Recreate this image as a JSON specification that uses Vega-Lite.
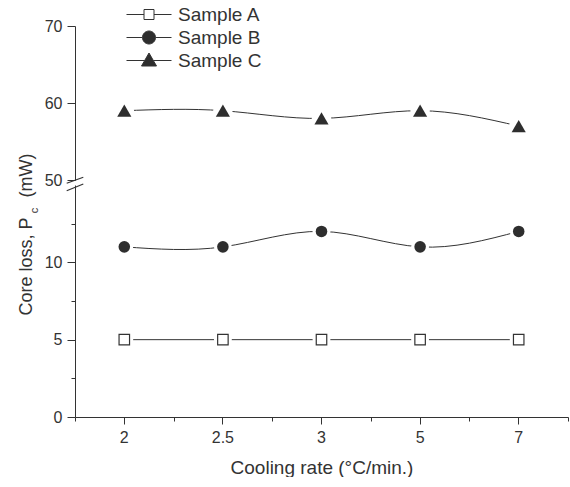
{
  "$schema": "https://vega.github.io/schema/vega-lite/v6.json",
  "padding": {"left": 16, "top": 5, "right": 0, "bottom": 0},
  "bounds": "flush",
  "spacing": 5,
  "config": {
    "view": {"stroke": null},
    "font": "Liberation Sans",
    "axis": {
      "labelFont": "Liberation Sans", "titleFont": "Liberation Sans",
      "labelFontSize": 16, "titleFontSize": 19, "titleFontWeight": "normal",
      "labelColor": "#333333", "titleColor": "#333333",
      "domainColor": "#333333", "tickColor": "#333333", "grid": false
    },
    "legend": {"labelFont": "Liberation Sans"}
  },
  "data": {"values": [
    {"rate": "2", "sample": "Sample A", "loss": 5},
    {"rate": "2.5", "sample": "Sample A", "loss": 5},
    {"rate": "3", "sample": "Sample A", "loss": 5},
    {"rate": "5", "sample": "Sample A", "loss": 5},
    {"rate": "7", "sample": "Sample A", "loss": 5},
    {"rate": "2", "sample": "Sample B", "loss": 11},
    {"rate": "2.5", "sample": "Sample B", "loss": 11},
    {"rate": "3", "sample": "Sample B", "loss": 12},
    {"rate": "5", "sample": "Sample B", "loss": 11},
    {"rate": "7", "sample": "Sample B", "loss": 12},
    {"rate": "2", "sample": "Sample C", "loss": 59},
    {"rate": "2.5", "sample": "Sample C", "loss": 59},
    {"rate": "3", "sample": "Sample C", "loss": 58},
    {"rate": "5", "sample": "Sample C", "loss": 59},
    {"rate": "7", "sample": "Sample C", "loss": 57}
  ]},
  "vconcat": [
    {
      "width": 493, "height": 154,
      "layer": [
        {
          "transform": [{"filter": "datum.sample == 'Sample C'"}],
          "mark": {"type": "line", "interpolate": "natural", "color": "#333333", "strokeWidth": 1},
          "encoding": {
            "x": {"field": "rate", "type": "nominal", "scale": {"type": "band", "domain": ["2", "2.5", "3", "5", "7"], "paddingInner": 0, "paddingOuter": 0}, "axis": null},
            "y": {"field": "loss", "type": "quantitative", "scale": {"domain": [50, 70], "nice": false, "zero": false},
              "axis": {"orient": "left", "title": null, "values": [50, 52.5, 55, 57.5, 60, 62.5, 65, 67.5, 70],
                "labelExpr": "datum.value % 5 === 0 ? datum.label : ''",
                "tickSize": {"condition": {"test": "datum.value % 5 === 0", "value": 8}, "value": 4},
                "labelPadding": 5}}
          }
        },
        {
          "transform": [{"filter": "datum.sample == 'Sample C'"}],
          "mark": {"type": "point", "shape": "circle", "filled": true, "color": "#ffffff", "size": 380, "opacity": 1},
          "encoding": {
            "x": {"field": "rate", "type": "nominal"},
            "y": {"field": "loss", "type": "quantitative"}
          }
        },
        {
          "transform": [{"filter": "datum.sample == 'Sample C'"}],
          "mark": {"type": "point", "shape": "triangle-up", "filled": true, "color": "#2e2e2e", "size": 200, "opacity": 1},
          "encoding": {
            "x": {"field": "rate", "type": "nominal"},
            "y": {"field": "loss", "type": "quantitative"}
          }
        },
        {
          "data": {"values": [{"label": "break"}]},
          "mark": {"type": "point", "shape": "M-0.83,0.33L0.83,-0.27M-0.83,1.07L0.83,0.4", "size": 400, "filled": false, "stroke": "#333333", "strokeWidth": 1.2, "opacity": 1},
          "encoding": {
            "x": {"datum": "2", "type": "nominal", "bandPosition": 0},
            "y": {"datum": 50, "type": "quantitative"}
          }
        },
        {
          "transform": [{"filter": "false"}],
          "mark": {"type": "point", "filled": true, "strokeWidth": 1, "opacity": 1},
          "encoding": {
            "shape": {"field": "sample", "type": "nominal",
              "scale": {"domain": ["Sample A", "Sample B", "Sample C"],
                "range": [
                  "M-8,0L-4.5,0M-2.5,0L1,0M-4.5,-1L-2.5,-1L-2.5,1L-4.5,1Z",
                  "M-8,0L-4.8,0M-2.2,0L1,0M-4.8,0A1.3,1.3 0 1,0 -2.2,0A1.3,1.3 0 1,0 -4.8,0Z",
                  "M-8,0L-4.37,0M-2.63,0L1,0M-3.5,-1.5L-2,1.1L-5,1.1Z"
                ]},
              "legend": {"orient": "none", "legendX": 82, "legendY": -21, "title": null, "symbolSize": 100,
                "symbolStrokeWidth": 1, "labelFontSize": 19, "labelColor": "#333333",
                "labelOffset": 2, "rowPadding": 3}},
            "fill": {"field": "sample", "type": "nominal",
              "scale": {"domain": ["Sample A", "Sample B", "Sample C"], "range": ["#ffffff", "#2e2e2e", "#2e2e2e"]},
              "legend": {"orient": "none", "legendX": 82, "legendY": -21, "title": null, "symbolSize": 100,
                "symbolStrokeWidth": 1, "labelFontSize": 19, "labelColor": "#333333",
                "labelOffset": 2, "rowPadding": 3}},
            "stroke": {"field": "sample", "type": "nominal",
              "scale": {"domain": ["Sample A", "Sample B", "Sample C"], "range": ["#333333", "#333333", "#333333"]},
              "legend": {"orient": "none", "legendX": 82, "legendY": -21, "title": null, "symbolSize": 100,
                "symbolStrokeWidth": 1, "labelFontSize": 19, "labelColor": "#333333",
                "labelOffset": 2, "rowPadding": 3}}
          }
        }
      ]
    },
    {
      "width": 493, "height": 232,
      "resolve": {"axis": {"x": "independent", "y": "independent"}},
      "layer": [
        {
          "transform": [{"filter": "datum.sample != 'Sample C'"}],
          "mark": {"type": "line", "interpolate": "natural", "color": "#333333", "strokeWidth": 1},
          "encoding": {
            "detail": {"field": "sample"},
            "x": {"field": "rate", "type": "nominal", "scale": {"type": "band", "domain": ["2", "2.5", "3", "5", "7"], "paddingInner": 0, "paddingOuter": 0},
              "axis": {"orient": "bottom", "title": "Cooling rate (°C/min.)", "labelAngle": 0, "tickSize": 7, "labelPadding": 5, "titlePadding": 13}},
            "y": {"field": "loss", "type": "quantitative", "scale": {"domain": [0, 15], "nice": false, "zero": false},
              "axis": {"orient": "left", "title": "Core loss, P\u00a0\u00a0\u00a0\u00a0(mW)", "titleFontSize": 18, "values": [0, 2.5, 5, 7.5, 10, 12.5],
                "labelExpr": "datum.value % 5 === 0 ? datum.label : ''",
                "tickSize": {"condition": {"test": "datum.value % 5 === 0", "value": 8}, "value": 4},
                "labelPadding": 5, "titleX": -44, "titleY": 49, "titleAlign": "center", "titleBaseline": "alphabetic", "titleAngle": -90}}
          }
        },
        {
          "transform": [{"filter": "datum.sample != 'Sample C'"}],
          "mark": {"type": "point", "shape": "circle", "filled": true, "color": "#ffffff", "size": 320, "opacity": 1},
          "encoding": {
            "x": {"field": "rate", "type": "nominal", "axis": null},
            "y": {"field": "loss", "type": "quantitative", "axis": null}
          }
        },
        {
          "transform": [{"filter": "datum.sample == 'Sample A'"}],
          "mark": {"type": "point", "shape": "square", "filled": false, "fill": "#ffffff", "stroke": "#333333", "strokeWidth": 1.2, "size": 110, "opacity": 1},
          "encoding": {
            "x": {"field": "rate", "type": "nominal", "axis": null},
            "y": {"field": "loss", "type": "quantitative", "axis": null}
          }
        },
        {
          "transform": [{"filter": "datum.sample == 'Sample B'"}],
          "mark": {"type": "point", "shape": "circle", "filled": true, "color": "#2e2e2e", "size": 133, "opacity": 1},
          "encoding": {
            "x": {"field": "rate", "type": "nominal", "axis": null},
            "y": {"field": "loss", "type": "quantitative", "axis": null}
          }
        },
        {
          "transform": [{"filter": "false"}],
          "mark": {"type": "point", "opacity": 0},
          "encoding": {
            "x": {"field": "rate", "type": "nominal",
              "axis": {"orient": "bottom", "tickBand": "extent", "labels": false, "domain": false, "tickSize": 4, "title": null}},
            "y": {"field": "loss", "type": "quantitative",
              "axis": {"orient": "left", "domain": false, "ticks": false, "labels": false, "title": "c", "titleFontSize": 11,
                "titleX": -38, "titleY": 25, "titleAlign": "center", "titleBaseline": "alphabetic", "titleAngle": -90}}
          }
        }
      ]
    }
  ]
}
